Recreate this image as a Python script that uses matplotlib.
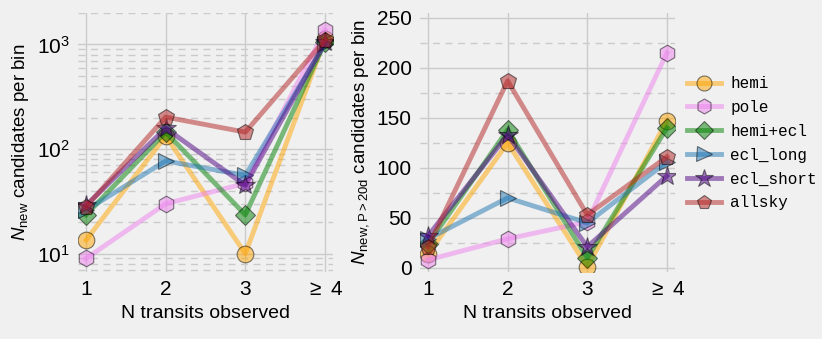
import numpy as np
import matplotlib
matplotlib.use("Agg")
from matplotlib import pyplot as plt
from matplotlib.ticker import LogLocator, MultipleLocator, NullFormatter

# bins of number of observed transits
bins = [1, 2, 3, 4]
bin_labels = ["1", "2", "3", r"$\geq$ 4"]

names = ["hemi", "pole", "hemi+ecl", "ecl_long", "ecl_short", "allsky"]
colors = ["orange", "violet", "green", "#1f77b4", "indigo", "firebrick"]
markers = ["o", "h", "D", ">", "*", "p"]

# all new candidates
n_all = {
    "hemi":      [13.5, 133, 10, 1120],
    "pole":      [9, 30, 47, 1360],
    "hemi+ecl":  [23.5, 145, 23.5, 1050],
    "ecl_long":  [26, 77, 56, 1000],
    "ecl_short": [29, 158, 45, 1050],
    "allsky":    [28, 202, 145, 1100],
}

# new candidates with P > 20 d
n_long = {
    "hemi":      [14, 125, 1, 147],
    "pole":      [8, 29, 46, 215],
    "hemi+ecl":  [24, 138, 10, 140],
    "ecl_long":  [29, 70, 45, 106],
    "ecl_short": [32, 133, 21, 92],
    "allsky":    [21, 187, 53, 111],
}

plt.rcParams["font.family"] = "Liberation Sans"
plt.rcParams["mathtext.fontset"] = "custom"
plt.rcParams["mathtext.rm"] = "Liberation Sans"
plt.rcParams["mathtext.it"] = "Liberation Sans:italic"
plt.rcParams["font.size"] = 13

bg = "#f0f0f0"
fig = plt.figure(figsize=(8.22, 3.39), dpi=100, facecolor=bg)
ax1 = fig.add_axes([0.095, 0.198, 0.31, 0.764])
ax2 = fig.add_axes([0.511, 0.198, 0.31, 0.764])

for ax, data in [(ax1, n_all), (ax2, n_long)]:
    ax.set_facecolor(bg)
    for name, c, m in zip(names, colors, markers):
        ms = 15 if m == "*" else (10 if m == "D" else 12)
        ax.plot(bins, data[name], color=c, marker=m, lw=3.5, ms=ms,
                alpha=0.5, mec="k", mew=0.8, label=name)
    for s in ax.spines.values():
        s.set_visible(False)
    ax.set_xlim(0.9, 4.1)
    ax.set_xticks(bins)
    ax.set_xticklabels(bin_labels)
    ax.set_xlabel("N transits observed", fontsize=14)
    ax.tick_params(which="both", length=0, pad=6, labelsize=15)
    ax.grid(True, which="major", color="#cbcbcb", lw=1.0)
    ax.grid(True, which="minor", axis="y", color="#cbcbcb", lw=1.0, ls=(0, (5, 4)))
    ax.set_axisbelow(True)

ax1.set_yscale("log")
ax1.set_ylim(6.7, 2000)
ax1.yaxis.set_minor_locator(LogLocator(base=10, subs=np.arange(2, 10)))
ax1.yaxis.set_minor_formatter(NullFormatter())
ax1.set_ylabel(r"$N_{\rm new}$ candidates per bin", fontsize=13.5)

ax2.set_ylim(-4, 255)
ax2.yaxis.set_major_locator(MultipleLocator(50))
ax2.yaxis.set_minor_locator(MultipleLocator(25))
ax2.set_ylabel(r"$N_{\rm new,P>20d}$ candidates per bin", fontsize=13.5)

h, l = ax2.get_legend_handles_labels()
fig.legend(h, l, loc="upper left", bbox_to_anchor=(0.836, 0.775), frameon=False,
           borderpad=0, borderaxespad=0,
           prop={"family": "Liberation Mono", "size": 11.5}, handlelength=2.1,
           handletextpad=0.6, labelspacing=0.55, markerscale=0.9)

fig.savefig("out.png", dpi=100, facecolor=bg)
